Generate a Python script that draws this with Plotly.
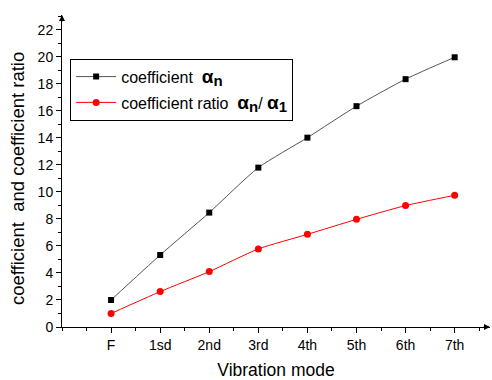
import plotly.graph_objects as go

modes = ["F", "1sd", "2nd", "3rd", "4th", "5th", "6th", "7th"]
coef = [2.0, 5.33, 8.47, 11.8, 14.02, 16.35, 18.35, 19.97]
ratio = [1.0, 2.62, 4.1, 5.78, 6.86, 7.97, 8.99, 9.75]
xpos = list(range(len(modes)))

FONT = "Liberation Sans, Arial, sans-serif"
A = "<span style='font-size:19px'><b>α</b></span>"
sub = lambda s: "<sub><span style='font-size:15px'><b>" + s + "</b></span></sub>"

fig = go.Figure()
fig.add_trace(go.Scatter(
    x=xpos, y=coef, mode="lines+markers",
    line=dict(color="#555555", width=1, shape="spline", smoothing=0.6),
    marker=dict(symbol="square", size=6, color="black"),
    legendgroup="a",
    name="coefficient  " + A + sub("n")))
fig.add_trace(go.Scatter(
    x=xpos, y=ratio, mode="lines+markers",
    line=dict(color="red", width=1, shape="spline", smoothing=0.6),
    marker=dict(symbol="circle", size=7, color="red"),
    legendgroup="b",
    name="coefficient ratio  " + A + sub("n") + "/ " + A + sub("1")))

fig.update_layout(
    width=492, height=380,
    margin=dict(l=62, r=2, t=15, b=53),
    plot_bgcolor="white", paper_bgcolor="white",
    font=dict(family=FONT, color="black", size=14),
    showlegend=True,
    legend=dict(x=0.019, y=0.86, xanchor="left", yanchor="top",
                bordercolor="black", borderwidth=1, bgcolor="white",
                itemwidth=40,
                font=dict(size=16, family=FONT), tracegroupgap=2),
    xaxis=dict(range=[-1, 7.72], tickvals=xpos, ticktext=modes,
               showgrid=False, zeroline=False, showline=True,
               linecolor="black", linewidth=1,
               ticks="outside", ticklen=5, tickcolor="black",
               minor=dict(ticks="outside", ticklen=3, dtick=0.5, tick0=0,
                          tickcolor="black", showgrid=False),
               tickfont=dict(size=14),
               title=dict(text="Vibration mode", font=dict(size=17.5), standoff=12)),
    yaxis=dict(range=[0, 23.1], tickvals=list(range(0, 23, 2)),
               showgrid=False, zeroline=False, showline=True,
               linecolor="black", linewidth=1,
               ticks="outside", ticklen=5, tickcolor="black",
               minor=dict(ticks="outside", ticklen=3, dtick=1,
                          tickcolor="black", showgrid=False),
               tickfont=dict(size=14)),
)

# y-axis title as annotation (centered slightly below plot middle, like the reference)
fig.add_annotation(x=0, y=0.474, xref="paper", yref="paper", xshift=-45,
                   text="coefficient  and coefficient ratio", textangle=-90,
                   showarrow=False, font=dict(size=18.5), xanchor="center", yanchor="middle")

# axis arrowheads
fig.add_annotation(x=0, y=1.0, xref="paper", yref="paper", ax=0, ay=8,
                   showarrow=True, arrowhead=2, arrowsize=1.2, arrowwidth=1,
                   arrowcolor="black", text="")
fig.add_annotation(x=1.0, y=0, xref="paper", yref="paper", ax=-8, ay=0,
                   showarrow=True, arrowhead=2, arrowsize=1.2, arrowwidth=1,
                   arrowcolor="black", text="")

fig.write_html("out.html")
